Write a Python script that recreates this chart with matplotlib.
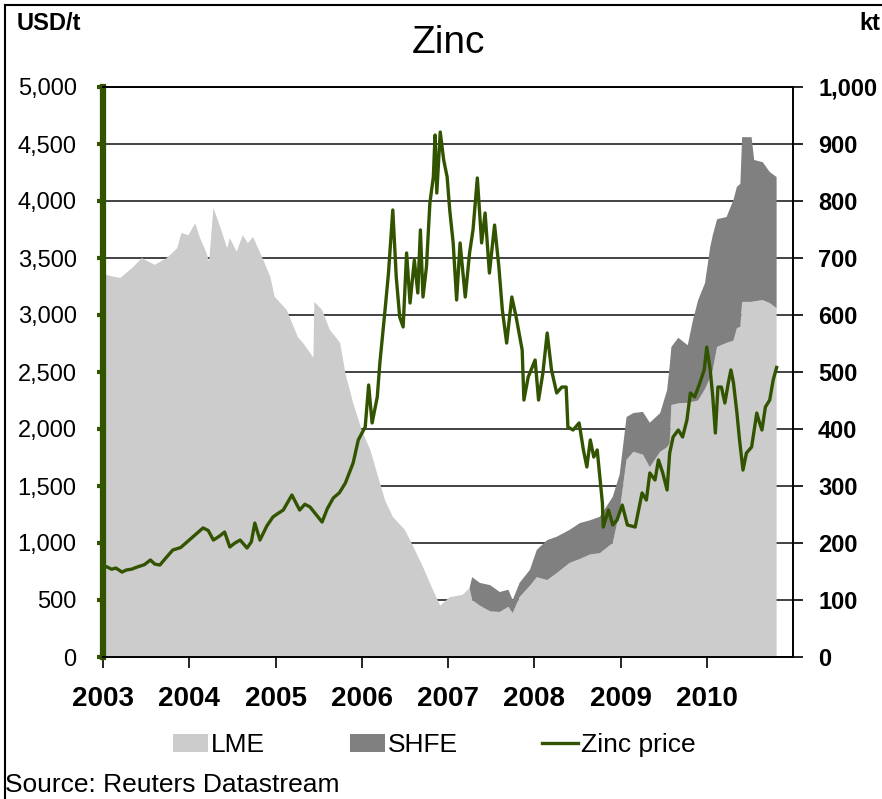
import matplotlib
matplotlib.use("Agg")
import matplotlib.pyplot as plt
from matplotlib.patches import Patch
from matplotlib.lines import Line2D
from matplotlib.ticker import FuncFormatter, MultipleLocator

# zinc price, USD/t (decimal year)
price_years = [2003.00, 2003.04, 2003.10, 2003.15, 2003.22, 2003.27, 2003.33, 2003.40, 2003.48, 2003.55,
               2003.60, 2003.66, 2003.73, 2003.81, 2003.90,
               2004.00, 2004.08, 2004.16, 2004.22, 2004.28, 2004.35, 2004.41, 2004.47, 2004.53, 2004.59,
               2004.67, 2004.72, 2004.76, 2004.82, 2004.90, 2004.97,
               2005.03, 2005.09, 2005.19, 2005.28, 2005.34, 2005.40, 2005.47, 2005.54, 2005.60, 2005.67,
               2005.74, 2005.81, 2005.90, 2005.96,
               2006.04, 2006.08, 2006.12, 2006.18, 2006.21, 2006.27, 2006.31, 2006.36, 2006.40, 2006.44,
               2006.48, 2006.52, 2006.56, 2006.61, 2006.65, 2006.68, 2006.71, 2006.75, 2006.79, 2006.83,
               2006.85, 2006.87, 2006.91, 2006.95, 2006.99,
               2007.02, 2007.06, 2007.10, 2007.14, 2007.20, 2007.25, 2007.29, 2007.34, 2007.39, 2007.43,
               2007.48, 2007.54, 2007.59, 2007.63, 2007.68, 2007.74, 2007.79, 2007.86, 2007.88, 2007.93,
               2008.01, 2008.05, 2008.10, 2008.15, 2008.20, 2008.26, 2008.32, 2008.37, 2008.39, 2008.45,
               2008.52, 2008.57, 2008.61, 2008.65, 2008.69, 2008.73, 2008.76, 2008.79, 2008.80, 2008.86,
               2008.91, 2008.96,
               2009.02, 2009.08, 2009.17, 2009.25, 2009.30, 2009.34, 2009.40, 2009.44, 2009.49, 2009.54,
               2009.57, 2009.61, 2009.67, 2009.72, 2009.77, 2009.81, 2009.86, 2009.92, 2009.97,
               2010.00, 2010.04, 2010.07, 2010.10, 2010.13, 2010.17, 2010.21, 2010.25, 2010.28, 2010.31,
               2010.35, 2010.38, 2010.42, 2010.46, 2010.52, 2010.58, 2010.61, 2010.64, 2010.68, 2010.73,
               2010.77, 2010.81]
zinc_price = [790, 792, 770, 780, 745, 763, 770, 790, 810, 851,
              815, 807, 870, 939, 960,
              1026, 1080, 1132, 1110, 1026, 1060, 1096, 965, 1000, 1026,
              956, 1010, 1175, 1026, 1150, 1228,
              1260, 1289, 1421, 1289, 1340, 1316, 1250, 1184, 1300, 1395,
              1440, 1526, 1702, 1904,
              2018, 2386, 2053, 2281, 2579, 3044, 3368, 3921, 3333, 2982,
              2895, 3544, 3105, 3482, 3193, 3746, 3158, 3421, 3982, 4211,
              4579, 4070, 4605, 4360, 4211,
              3921, 3632, 3132, 3632, 3158, 3544, 3746, 4202, 3632, 3895,
              3368, 3789, 3421, 3044, 2754, 3158, 2982, 2693, 2254, 2456,
              2605, 2254, 2491, 2842, 2518, 2316, 2368, 2368, 2018, 1991,
              2053, 1816, 1667, 1904, 1754, 1816, 1579, 1351, 1140, 1289,
              1158, 1202,
              1333, 1158, 1140, 1439, 1377, 1614, 1553, 1728, 1614, 1465,
              1789, 1930, 1991, 1930, 2079, 2316, 2281, 2404, 2518,
              2719, 2518, 2281, 1965, 2368, 2368, 2228, 2404, 2518, 2404,
              2140, 1904, 1640, 1789, 1842, 2140, 2060, 1991, 2193, 2254,
              2430, 2540]

# exchange stocks, kt
stock_years = [2003.00, 2003.10, 2003.20, 2003.35, 2003.45, 2003.60, 2003.74, 2003.86, 2003.91, 2003.99,
               2004.07, 2004.12, 2004.20, 2004.23, 2004.28, 2004.36, 2004.44, 2004.47, 2004.55, 2004.62,
               2004.68, 2004.74, 2004.86, 2004.94, 2004.99,
               2005.13, 2005.26, 2005.32, 2005.44, 2005.45, 2005.54, 2005.63, 2005.75, 2005.81, 2005.90,
               2006.00, 2006.10, 2006.19, 2006.27, 2006.36, 2006.50, 2006.60, 2006.71, 2006.81, 2006.91,
               2007.02, 2007.17, 2007.25, 2007.28, 2007.37, 2007.49, 2007.60, 2007.70, 2007.75, 2007.83,
               2007.95, 2008.03, 2008.15, 2008.26, 2008.41, 2008.53, 2008.65, 2008.76, 2008.91, 2008.99,
               2009.07, 2009.15, 2009.26, 2009.34, 2009.46, 2009.54, 2009.57, 2009.59, 2009.67, 2009.78,
               2009.84, 2009.90, 2009.98, 2010.04, 2010.07, 2010.12, 2010.23, 2010.31, 2010.35, 2010.39,
               2010.41, 2010.52, 2010.55, 2010.65, 2010.73, 2010.81]
lme = [672, 668, 665, 684, 700, 688, 700, 717, 744, 740,
       761, 737, 709, 693, 788, 754, 717, 735, 711, 740,
       726, 737, 696, 667, 632,
       609, 561, 551, 525, 623, 609, 574, 551, 498, 446,
       398, 363, 316, 275, 246, 223, 193, 158, 123, 90,
       105, 109, 121, 100, 90, 80, 79, 88, 77, 105,
       125, 140, 135, 147, 165, 172, 180, 182, 200, 255,
       346, 360, 355, 333, 360, 368, 375, 442, 445, 446,
       448, 450, 470, 490, 504, 544, 551, 555, 577, 579,
       623, 623, 624, 626, 621, 612]
shfe = [0, 0, 0, 0, 0, 0, 0, 0, 0, 0,
        0, 0, 0, 0, 0, 0, 0, 0, 0, 0,
        0, 0, 0, 0, 0,
        0, 0, 0, 0, 0, 0, 0, 0, 0, 0,
        0, 0, 0, 0, 0, 0, 0, 0, 0, 0,
        0, 0, 0, 40, 40, 46, 35, 30, 23, 25,
        28, 48, 70, 64, 58, 63, 60, 64, 81, 65,
        75, 68, 75, 78, 68, 100, 135, 102, 115, 101,
        143, 176, 186, 229, 236, 224, 221, 247, 248, 251,
        289, 289, 248, 242, 230, 230]

years = [2003, 2004, 2005, 2006, 2007, 2008, 2009, 2010]

green = "#325400"
plt.rcParams["font.family"] = ["Liberation Sans", "DejaVu Sans"]

fig = plt.figure(figsize=(8.82, 7.99), dpi=100)
ax = fig.add_axes([103 / 882, 142 / 799, 690 / 882, 570 / 799])
ax2 = ax.twinx()
ax.set_zorder(ax2.get_zorder() + 1)
ax.patch.set_visible(False)

# stocks, stacked, on right axis
ax2.stackplot(stock_years, lme, shfe, colors=["#cccccc", "#808080"], linewidth=0, zorder=2)
ax2.set_ylim(0, 1000)
ax2.yaxis.set_major_locator(MultipleLocator(100))
ax2.yaxis.set_major_formatter(FuncFormatter(lambda v, p: f"{int(v):,}"))
ax2.grid(True, color="#222222", linewidth=1.2, zorder=0)
ax2.set_axisbelow(True)
for s in ax2.spines.values():
    s.set_visible(False)
ax2.tick_params(axis="y", direction="out", length=7, width=1.2, pad=11, labelsize=17)
for lab in ax2.get_yticklabels():
    lab.set_fontweight("bold")

# price line on left axis
ax.plot(price_years, zinc_price, color=green, linewidth=2.4, zorder=5)
ax.set_ylim(0, 5000)
ax.set_xlim(2003, 2011)
ax.yaxis.set_major_locator(MultipleLocator(500))
ax.yaxis.set_major_formatter(FuncFormatter(lambda v, p: f"{int(v):,}"))
ax.set_xticks(years)
ax2.set_xticks(years)
ax.set_xticklabels([str(y) for y in years], fontsize=20, fontweight="bold")
ax.tick_params(axis="x", direction="out", length=8, width=1.2, pad=13)
ax.tick_params(axis="y", direction="out", length=4, width=3, color=green, pad=15, labelsize=17)

ax.spines["left"].set_color(green)
ax.spines["left"].set_linewidth(4.5)
for side in ["top", "bottom", "right"]:
    ax.spines[side].set_color("black")
    ax.spines[side].set_linewidth(1.4)

# titles / units
fig.text(448 / 882, 1 - 43 / 799, "Zinc", fontsize=28, ha="center", va="center")
fig.text(17 / 882, 1 - 30 / 799, "USD/t", fontsize=17, fontweight="bold", ha="left", va="baseline")
fig.text(859 / 882, 1 - 30 / 799, "kt", fontsize=17, fontweight="bold", ha="left", va="baseline")

# legend
handles = [Patch(facecolor="#cccccc", edgecolor="none"),
           Patch(facecolor="#808080", edgecolor="none"),
           Line2D([0], [0], color=green, linewidth=2.4)]
fig.legend(handles, ["LME", "SHFE", "Zinc price"], ncol=3, loc="center",
           bbox_to_anchor=(434 / 882, 1 - 745 / 799), frameon=False,
           prop={"size": 19}, handlelength=1.35, handletextpad=0.1,
           columnspacing=3.2)

fig.text(5 / 882, 1 - 792 / 799, "Source: Reuters Datastream", fontsize=19,
         ha="left", va="baseline")

# outer frame
fig.add_artist(Line2D([5 / 882, 1], [1 - 5 / 799, 1 - 5 / 799], color="black", linewidth=1.5))
fig.add_artist(Line2D([5 / 882, 5 / 882], [0, 1 - 5 / 799], color="black", linewidth=1.5))

fig.savefig("out.png", dpi=100)
